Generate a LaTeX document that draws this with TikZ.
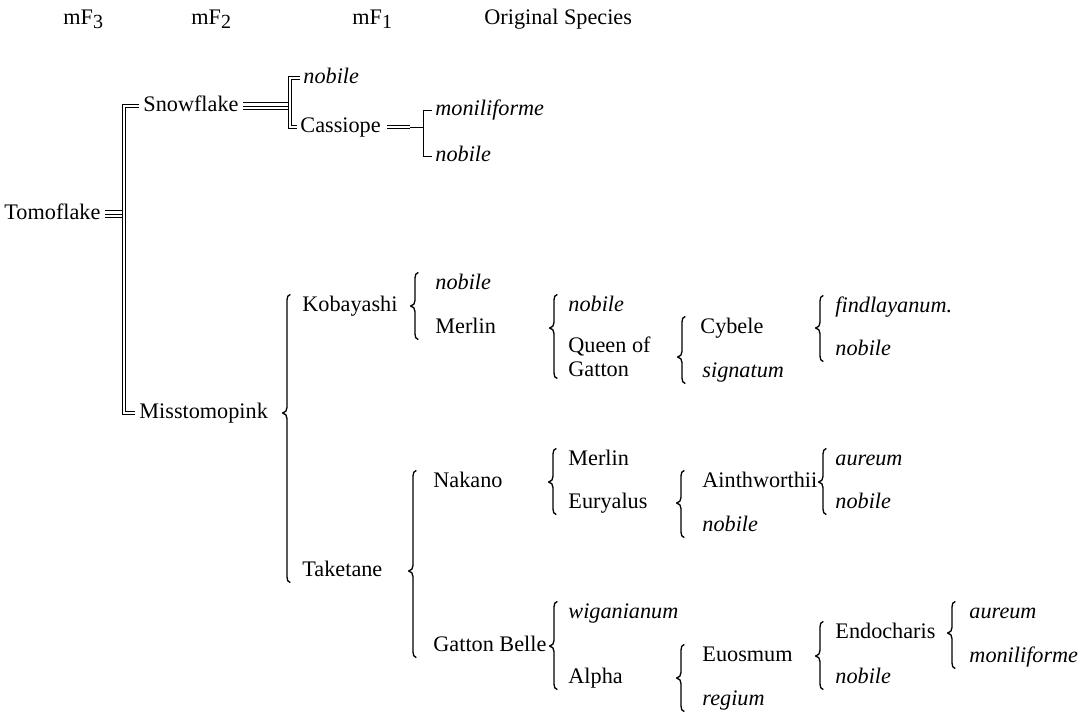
\documentclass[tikz,border=0pt]{standalone}
\usepackage{fontspec}
\setmainfont{Liberation Serif}
\usetikzlibrary{calc}

% brace from first to last child, tip pointing at the parent
\newcommand{\famBrace}[4]{%
  \draw[famline] let \p1=(#2.west), \p2=(#3.north), \p3=(#4.south), \p4=(#1,0) in
    (\x4+1.5pt,\y2+0.5pt) to[out=180,in=90] (\x4,\y2-2pt)
    -- (\x4,\y1+2.5pt) to[out=-90,in=0] (\x4-2pt,\y1)
    to[out=0,in=90] (\x4,\y1-2.5pt)
    -- (\x4,\y3+2pt) to[out=-90,in=180] (\x4+1.5pt,\y3-0.5pt);
}

\begin{document}
\begin{tikzpicture}[
  x=0.45pt, y=-0.45pt,
  cult/.style={anchor=west, inner sep=0pt, text height=7pt, text depth=2pt},
  species/.style={cult, font=\itshape},
  cultwrap/.style={anchor=west, inner sep=0pt, align=left, font=\fontsize{10}{10.8}\selectfont},
  famline/.style={line width=0.6pt, line join=round},
  dbl/.style={double, double distance=1pt, line width=0.45pt},
  trio/.style={double, double distance=3.1pt, line width=0.45pt},
  single/.style={line width=0.45pt},
]
\useasboundingbox (0,0) rectangle (1080,714);

% generation headings
\node[cult] (genC) at (63,19) {mF\raisebox{-0.35ex}{\small 3}};
\node[cult] (genB) at (191,19) {mF\raisebox{-0.35ex}{\small 2}};
\node[cult] (genA) at (352,19) {mF\raisebox{-0.35ex}{\small 1}};
\node[cult] (genS) at (484,19) {Original Species};

% Tomoflake and the Snowflake side
\node[cult] (tomo) at (4,214) {Tomoflake};
\node[cult] (snow) at (143,106) {Snowflake};
\node[cult] (miss) at (139,413) {Misstomopink};
\node[species] (snowA) at (303,78) {nobile};
\node[cult] (cass) at (300,127) {Cassiope};
\node[species] (cassA) at (435,110) {moniliforme};
\node[species] (cassB) at (435,156) {nobile};

\coordinate (tomoJ) at ([xshift=10.5pt]tomo.east);
\draw[dbl] ([xshift=-2pt]snow.west) -| (tomoJ) |- ([xshift=-2pt]miss.west);
\draw[trio] ([xshift=2pt]tomo.east) -- ([xshift=-1pt]tomoJ);
\draw[single] ([xshift=2pt]tomo.east) -- ([xshift=-1pt]tomoJ);

\coordinate (snowJ) at ([xshift=23pt]snow.east);
\draw[dbl] ([xshift=-1.5pt]snowA.west) -| (snowJ) |- ([xshift=-1.5pt]cass.west);
\draw[trio] ([xshift=2pt]snow.east) -- ([xshift=-1pt]snowJ);
\draw[single] ([xshift=2pt]snow.east) -- ([xshift=-1pt]snowJ);

\coordinate (cassJ) at ([xshift=19pt]cass.east);
\draw[single] ([xshift=-1.5pt]cassA.west) -| (cassJ) |- ([xshift=-1.5pt]cassB.west);
\draw[dbl] ([xshift=2.5pt]cass.east) -- ([xshift=13pt]cass.east);
\draw[single] ([xshift=13pt]cass.east) -- (cassJ);

% Misstomopink side
\node[cult] (koba) at (302,306) {Kobayashi};
\node[cult] (take) at (302,571) {Taketane};
\node[species] (kobaA) at (435,284) {nobile};
\node[cult] (kobaB) at (435,328) {Merlin};
\node[species] (merA) at (568,306) {nobile};
\node[cultwrap] (qog) at (568,357) {Queen of\\Gatton};
\node[cult] (cyb) at (700,328) {Cybele};
\node[species] (qogB) at (702,372) {signatum};
\node[species] (cybA) at (835,307) {findlayanum.};
\node[species] (cybB) at (835,350) {nobile};

\node[cult] (nak) at (433,482) {Nakano};
\node[cult] (gb) at (433,646) {Gatton Belle};
\node[cult] (nakA) at (568,460) {Merlin};
\node[cult] (eur) at (568,503) {Euryalus};
\node[cult] (ain) at (702,482) {Ainthworthii};
\node[species] (eurB) at (702,526) {nobile};
\node[species] (ainA) at (835,460) {aureum};
\node[species] (ainB) at (835,503) {nobile};
\node[species] (gbA) at (568,613) {wiganianum};
\node[cult] (alp) at (568,678) {Alpha};
\node[cult] (euo) at (702,656) {Euosmum};
\node[species] (alpB) at (702,700) {regium};
\node[cult] (endo) at (835,633) {Endocharis};
\node[species] (euoB) at (835,678) {nobile};
\node[species] (endoA) at (969,613) {aureum};
\node[species] (endoB) at (969,657) {moniliforme};

\famBrace{287}{miss}{koba}{take}
\famBrace{415}{koba}{kobaA}{kobaB}
\famBrace{554}{kobaB}{merA}{qog}
\famBrace{682}{qog}{cyb}{qogB}
\famBrace{820}{cyb}{cybA}{cybB}
\famBrace{413}{take}{nak}{gb}
\famBrace{553}{nak}{nakA}{eur}
\famBrace{681}{eur}{ain}{eurB}
\famBrace{823}{ain}{ainA}{ainB}
\famBrace{554}{gb}{gbA}{alp}
\famBrace{681}{alp}{euo}{alpB}
\famBrace{820}{euo}{endo}{euoB}
\famBrace{952}{endo}{endoA}{endoB}

\end{tikzpicture}
\end{document}
